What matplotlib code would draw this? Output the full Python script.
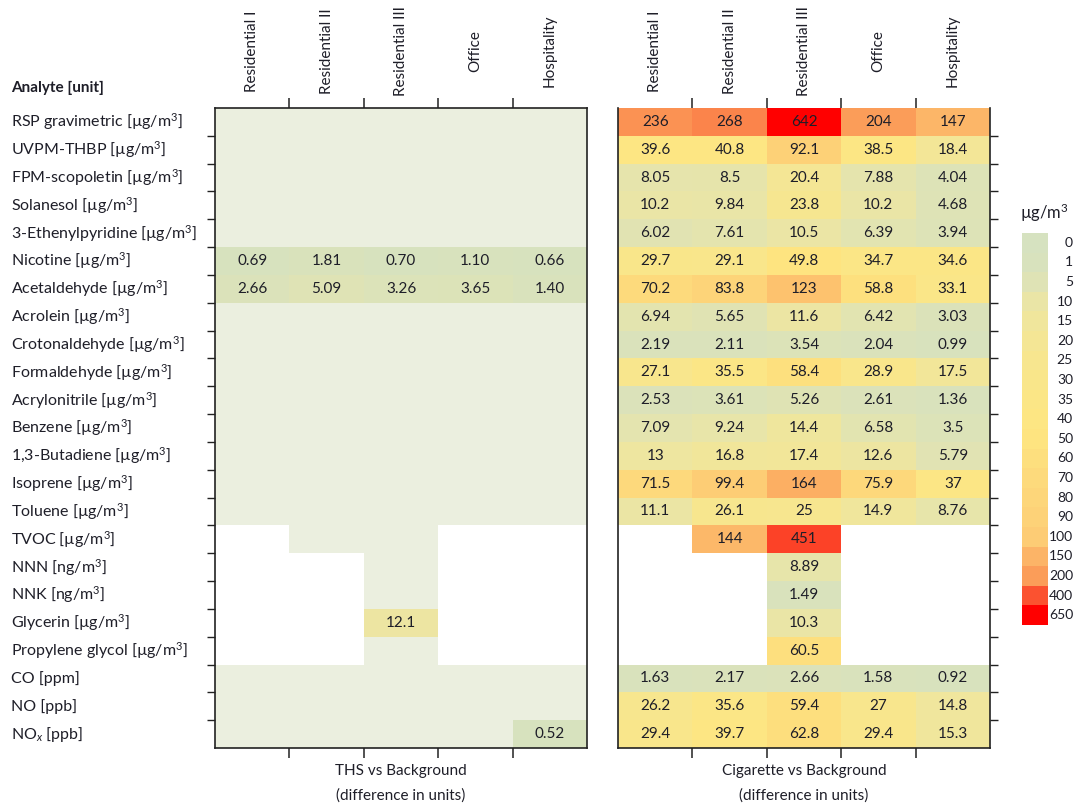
import numpy as np
import matplotlib
matplotlib.use("Agg")
import matplotlib.pyplot as plt
from matplotlib.colors import LinearSegmentedColormap, ListedColormap, Normalize
from matplotlib import transforms

plt.rcParams["font.family"] = ["Lato", "DejaVu Sans"]
plt.rcParams["mathtext.fontset"] = "custom"
plt.rcParams["mathtext.rm"] = "Lato"
plt.rcParams["mathtext.it"] = "Lato:italic"
plt.rcParams["mathtext.bf"] = "Lato:bold"

UG = "[µg/m$^3$]"
analytes = [
    f"RSP gravimetric {UG}", f"UVPM-THBP {UG}", f"FPM-scopoletin {UG}",
    f"Solanesol {UG}", f"3-Ethenylpyridine {UG}", f"Nicotine {UG}",
    f"Acetaldehyde {UG}", f"Acrolein {UG}", f"Crotonaldehyde {UG}",
    f"Formaldehyde {UG}", f"Acrylonitrile {UG}", f"Benzene {UG}",
    f"1,3-Butadiene {UG}", f"Isoprene {UG}", f"Toluene {UG}",
    f"TVOC {UG}", "NNN [ng/m$^3$]", "NNK [ng/m$^3$]", f"Glycerin {UG}",
    f"Propylene glycol {UG}", "CO [ppm]", "NO [ppb]", "NO$_x$ [ppb]",
]
settings = ["Residential I", "Residential II", "Residential III", "Office", "Hospitality"]

nan = np.nan
# THS vs background: 0 = no difference, nan = not measured
ths_diff = np.array([
    [0, 0, 0, 0, 0],
    [0, 0, 0, 0, 0],
    [0, 0, 0, 0, 0],
    [0, 0, 0, 0, 0],
    [0, 0, 0, 0, 0],
    [0.69, 1.81, 0.70, 1.10, 0.66],
    [2.66, 5.09, 3.26, 3.65, 1.40],
    [0, 0, 0, 0, 0],
    [0, 0, 0, 0, 0],
    [0, 0, 0, 0, 0],
    [0, 0, 0, 0, 0],
    [0, 0, 0, 0, 0],
    [0, 0, 0, 0, 0],
    [0, 0, 0, 0, 0],
    [0, 0, 0, 0, 0],
    [nan, 0, 0, nan, nan],
    [nan, nan, 0, nan, nan],
    [nan, nan, 0, nan, nan],
    [nan, nan, 12.1, nan, nan],
    [nan, nan, 0, nan, nan],
    [0, 0, 0, 0, 0],
    [0, 0, 0, 0, 0],
    [0, 0, 0, 0, 0.52],
])

cig_diff = np.array([
    [236, 268, 642, 204, 147],
    [39.6, 40.8, 92.1, 38.5, 18.4],
    [8.05, 8.5, 20.4, 7.88, 4.04],
    [10.2, 9.84, 23.8, 10.2, 4.68],
    [6.02, 7.61, 10.5, 6.39, 3.94],
    [29.7, 29.1, 49.8, 34.7, 34.6],
    [70.2, 83.8, 123, 58.8, 33.1],
    [6.94, 5.65, 11.6, 6.42, 3.03],
    [2.19, 2.11, 3.54, 2.04, 0.99],
    [27.1, 35.5, 58.4, 28.9, 17.5],
    [2.53, 3.61, 5.26, 2.61, 1.36],
    [7.09, 9.24, 14.4, 6.58, 3.5],
    [13, 16.8, 17.4, 12.6, 5.79],
    [71.5, 99.4, 164, 75.9, 37],
    [11.1, 26.1, 25, 14.9, 8.76],
    [nan, 144, 451, nan, nan],
    [nan, nan, 8.89, nan, nan],
    [nan, nan, 1.49, nan, nan],
    [nan, nan, 10.3, nan, nan],
    [nan, nan, 60.5, nan, nan],
    [1.63, 2.17, 2.66, 1.58, 0.92],
    [26.2, 35.6, 59.4, 27, 14.8],
    [29.4, 39.7, 62.8, 29.4, 15.3],
])

scale_levels = [0, 1, 5, 10, 15, 20, 25, 30, 35, 40, 50, 60, 70, 80, 90,
                100, 150, 200, 400, 650]
scale_colors = [
    "#D6E2C0", "#D8E2BD", "#DFE3B5", "#EAE5A6", "#F0E69C", "#F4E695",
    "#F7E68F", "#F9E68A", "#FBE686", "#FDE683", "#FEE480", "#FDDF7E",
    "#FDDA7C", "#FDD67A", "#FDD278", "#FDCD75", "#FCB567", "#FB9F5A",
    "#FB5532", "#FF0000",
]
NO_DIFF_COLOR = "#EBEFDF"
TEXT_COLOR = "#1E1E28"

cmap = LinearSegmentedColormap.from_list("excel_scale", scale_colors, N=512)
level_pos = np.linspace(0, 1, len(scale_levels))


class LevelNorm(Normalize):
    """Piecewise-linear normalisation between the scale levels."""

    def __call__(self, value, clip=None):
        v = np.ma.masked_invalid(np.ma.filled(np.ma.asarray(value, dtype=float), np.nan))
        out = np.interp(v.filled(0.0), scale_levels, level_pos)
        return np.ma.array(out, mask=np.ma.getmaskarray(v))

    def inverse(self, value):
        return np.interp(value, level_pos, scale_levels)


norm = LevelNorm(vmin=0, vmax=650)

W, H = 1074, 805
fig = plt.figure(figsize=(W / 100, H / 100), dpi=100)


def fx(px):
    return px / W


def fy(py):
    return 1 - py / H


n_rows, n_cols = len(analytes), len(settings)
ax_top, ax_bot = 108, 748
ax_l = fig.add_axes([fx(215), fy(ax_bot), fx(587) - fx(215), fy(ax_top) - fy(ax_bot)])
ax_r = fig.add_axes([fx(618), fy(ax_bot), fx(990) - fx(618), fy(ax_top) - fy(ax_bot)])

xe = np.arange(n_cols + 1)
ye = np.arange(n_rows + 1)

# Left panel: measured cells get a pale fill, non-zero differences get the colour scale
measured = np.where(np.isnan(ths_diff), nan, 1.0)
ax_l.pcolormesh(xe, ye, measured, cmap=ListedColormap([NO_DIFF_COLOR]),
                vmin=0, vmax=2, antialiased=False)
ths_shown = np.where(ths_diff > 0, ths_diff, nan)
ax_l.pcolormesh(xe, ye, ths_shown, cmap=cmap, norm=norm, antialiased=False)

ax_r.pcolormesh(xe, ye, cig_diff, cmap=cmap, norm=norm, antialiased=False)


def fmt_ths(v):
    return f"{v:.2f}" if v < 10 else f"{v:.3g}"


def fmt_cig(v):
    return f"{v:.3g}"


CELL_FS = 11
for i in range(n_rows):
    for j in range(n_cols):
        v = ths_diff[i, j]
        if not np.isnan(v) and v > 0:
            ax_l.text(j + 0.5, i + 0.5, fmt_ths(v), ha="center", va="center",
                      fontsize=CELL_FS, color=TEXT_COLOR)
        v = cig_diff[i, j]
        if not np.isnan(v):
            ax_r.text(j + 0.5, i + 0.5, fmt_cig(v), ha="center", va="center",
                      fontsize=CELL_FS, color=TEXT_COLOR)

for ax, side in ((ax_l, "left"), (ax_r, "right")):
    ax.set_xlim(0, n_cols)
    ax.set_ylim(n_rows, 0)
    ax.set_xticks(np.arange(1, n_cols))
    ax.set_yticks(np.arange(1, n_rows))
    ax.set_xticklabels([])
    ax.set_yticklabels([])
    ax.tick_params(axis="x", which="both", top=True, bottom=True, direction="out",
                   length=7, width=1.1, color="#222222")
    ax.tick_params(axis="y", which="both", left=(side == "left"),
                   right=(side == "right"), direction="out", length=6,
                   width=1.0, color="#222222")
    for sp in ax.spines.values():
        sp.set_linewidth(1.2)
        sp.set_color("#222222")
    # Column headers
    tr = transforms.blended_transform_factory(ax.transData, fig.transFigure)
    for j, name in enumerate(settings):
        ax.text(j + 0.5, fy(51), name, rotation=90, ha="center", va="center",
                fontsize=11, color=TEXT_COLOR, transform=tr)

ax_r.spines["top"].set_visible(False)

# Row labels
tr_rows = transforms.blended_transform_factory(fig.transFigure, ax_l.transData)
for i, name in enumerate(analytes):
    ax_l.text(fx(11), i + 0.5, name, ha="left", va="center", fontsize=11.5,
              color=TEXT_COLOR, transform=tr_rows)
fig.text(fx(11), fy(88), "Analyte [unit]", ha="left", va="center",
         fontsize=11, fontweight="bold", color=TEXT_COLOR)

# Panel captions
for ax, title in ((ax_l, "THS vs Background"), (ax_r, "Cigarette vs Background")):
    tr = transforms.blended_transform_factory(ax.transAxes, fig.transFigure)
    ax.text(0.5, fy(771), title, ha="center", va="center", fontsize=11,
            color=TEXT_COLOR, transform=tr)
    ax.text(0.5, fy(796), "(difference in units)", ha="center", va="center",
            fontsize=11, color=TEXT_COLOR, transform=tr)

# Colour scale legend
cb_top, cb_bot = 233, 625
ax_cb = fig.add_axes([fx(1022), fy(cb_bot), fx(1048) - fx(1022), fy(cb_top) - fy(cb_bot)])
levels_arr = np.array(scale_levels, dtype=float).reshape(-1, 1)
ax_cb.pcolormesh(np.arange(2), np.arange(len(scale_levels) + 1), levels_arr,
                 cmap=cmap, norm=norm, antialiased=False)
ax_cb.set_ylim(len(scale_levels), 0)
ax_cb.set_xlim(0, 1)
ax_cb.axis("off")
tr_cb = transforms.blended_transform_factory(fig.transFigure, ax_cb.transData)
for k, lev in enumerate(scale_levels):
    ax_cb.text(fx(1073), k + 0.5, str(lev), ha="right", va="center", fontsize=10,
               color=TEXT_COLOR, transform=tr_cb)
fig.text(fx(1044), fy(213), "µg/m$^3$", ha="center", va="center", fontsize=12,
         color=TEXT_COLOR)

fig.savefig("out.png", dpi=100)
